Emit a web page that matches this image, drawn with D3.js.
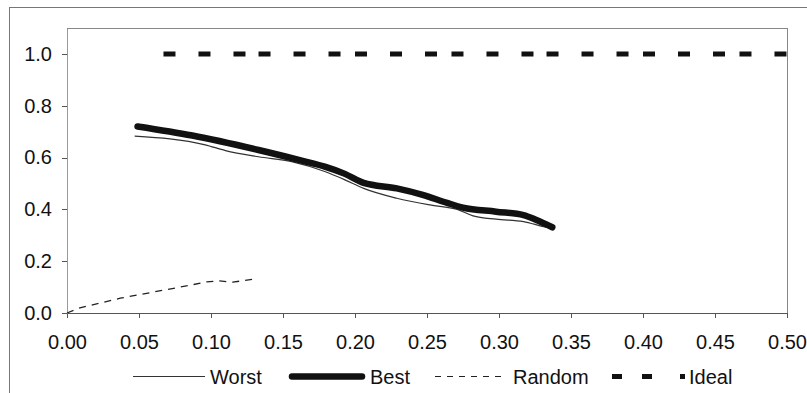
<!DOCTYPE html>
<html>
<head>
<meta charset="utf-8">
<script src="https://cdn.jsdelivr.net/npm/d3@7"></script>
<style>
  html, body { margin: 0; padding: 0; background: #fff; }
  svg { display: block; }
  text { font-family: "Liberation Sans", Arial, sans-serif; fill: #111; }
</style>
</head>
<body>
<svg id="chart" width="807" height="393"></svg>
<script>
// Series values: [x, y]
const worstData = [
  [0.047, 0.683], [0.096, 0.649], [0.110, 0.627], [0.133, 0.603], [0.156, 0.584],
  [0.179, 0.546], [0.193, 0.514], [0.206, 0.481], [0.229, 0.443], [0.252, 0.417],
  [0.271, 0.400], [0.282, 0.375], [0.298, 0.362], [0.317, 0.353], [0.331, 0.333],
  [0.337, 0.326]
];
const bestData = [
  [0.049, 0.720], [0.087, 0.685], [0.133, 0.629], [0.163, 0.588], [0.179, 0.565],
  [0.193, 0.537], [0.206, 0.502], [0.229, 0.481], [0.247, 0.456], [0.264, 0.425],
  [0.275, 0.407], [0.298, 0.391], [0.317, 0.378], [0.326, 0.359], [0.337, 0.331]
];
const randomData = [
  [0.000, 0.000], [0.009, 0.020], [0.037, 0.057], [0.065, 0.086], [0.088, 0.110],
  [0.097, 0.120], [0.106, 0.124], [0.115, 0.119], [0.129, 0.130]
];
const idealData = [
  [0.067, 1.0], [0.133, 1.0], [0.200, 1.0], [0.267, 1.0], [0.333, 1.0],
  [0.400, 1.0], [0.467, 1.0], [0.500, 1.0]
];
const xTicks = [0, 0.05, 0.10, 0.15, 0.20, 0.25, 0.30, 0.35, 0.40, 0.45, 0.50];
const yTicks = [0, 0.2, 0.4, 0.6, 0.8, 1.0];
const legendNames = ["Worst", "Best", "Random", "Ideal"];

const svg = d3.select("#chart");

// Outer chart frame
svg.append("rect")
  .attr("x", 9.5).attr("y", 7.5).attr("width", 810).attr("height", 400)
  .attr("fill", "none").attr("stroke", "#777").attr("stroke-width", 1);

const x = d3.scaleLinear().domain([0, 0.5]).range([67, 787]);
const y = d3.scaleLinear().domain([0, 1.1]).range([313, 28]);

// Plot area border (top and right)
svg.append("path")
  .attr("d", `M${x(0)},${y(1.1)}H${x(0.5)}V${y(0)}`)
  .attr("fill", "none").attr("stroke", "#888").attr("stroke-width", 1)
  .attr("shape-rendering", "crispEdges");

// Axes
const xAxis = svg.append("g")
  .attr("transform", `translate(0,${y(0)})`)
  .call(d3.axisBottom(x).tickValues(xTicks).tickFormat(d3.format(".2f"))
    .tickSize(5).tickSizeOuter(0).tickPadding(17));
const yAxis = svg.append("g")
  .attr("transform", `translate(${x(0)},0)`)
  .call(d3.axisLeft(y).tickValues(yTicks).tickFormat(d3.format(".1f"))
    .tickSize(5).tickSizeOuter(0).tickPadding(10));

[xAxis, yAxis].forEach(g => {
  g.select(".domain").attr("stroke", "#555").attr("shape-rendering", "crispEdges");
  g.selectAll(".tick line").attr("stroke", "#555").attr("shape-rendering", "crispEdges");
  g.selectAll("text").attr("font-size", 20)
    .attr("font-family", "'Liberation Sans', Arial, sans-serif").attr("fill", "#111");
});
yAxis.select(".domain").attr("stroke", "#999");

const line = d3.line().x(d => x(d[0])).y(d => y(d[1]));

// Ideal: each segment starts its own dash cycle
svg.append("g").selectAll("path")
  .data(d3.pairs(idealData))
  .join("path")
  .attr("d", d => line(d))
  .attr("fill", "none").attr("stroke", "#111")
  .attr("stroke-width", 5).attr("stroke-dasharray", "12 23");

// Random
svg.append("path").datum(randomData)
  .attr("d", line)
  .attr("fill", "none").attr("stroke", "#222")
  .attr("stroke-width", 1.3).attr("stroke-dasharray", "7 6");

// Worst
svg.append("path").datum(worstData)
  .attr("d", line.curve(d3.curveMonotoneX))
  .attr("fill", "none").attr("stroke", "#333").attr("stroke-width", 1.2);

// Best
svg.append("path").datum(bestData)
  .attr("d", line.curve(d3.curveMonotoneX))
  .attr("fill", "none").attr("stroke", "#111").attr("stroke-width", 6.5)
  .attr("stroke-linecap", "round").attr("stroke-linejoin", "round");

// Legend
const ly = 376.5;
const legend = svg.append("g");
legend.append("line").attr("x1", 133).attr("x2", 205).attr("y1", ly).attr("y2", ly)
  .attr("stroke", "#333").attr("stroke-width", 1.2);
legend.append("line").attr("x1", 292).attr("x2", 362).attr("y1", ly).attr("y2", ly)
  .attr("stroke", "#111").attr("stroke-width", 6.5).attr("stroke-linecap", "round");
legend.append("line").attr("x1", 435).attr("x2", 501).attr("y1", ly).attr("y2", ly)
  .attr("stroke", "#222").attr("stroke-width", 1.2).attr("stroke-dasharray", "6 6");
legend.append("line").attr("x1", 612).attr("x2", 652).attr("y1", ly).attr("y2", ly)
  .attr("stroke", "#111").attr("stroke-width", 5).attr("stroke-dasharray", "10 20");
legend.append("rect").attr("x", 680).attr("y", ly - 2.5).attr("width", 5).attr("height", 5)
  .attr("fill", "#111");

const legendX = [210, 370, 513, 689];
legend.selectAll("text.lbl")
  .data(legendNames)
  .join("text")
  .attr("class", "lbl")
  .attr("x", (d, i) => legendX[i])
  .attr("y", 383.5)
  .attr("font-size", 20)
  .text(d => d);
</script>
</body>
</html>
